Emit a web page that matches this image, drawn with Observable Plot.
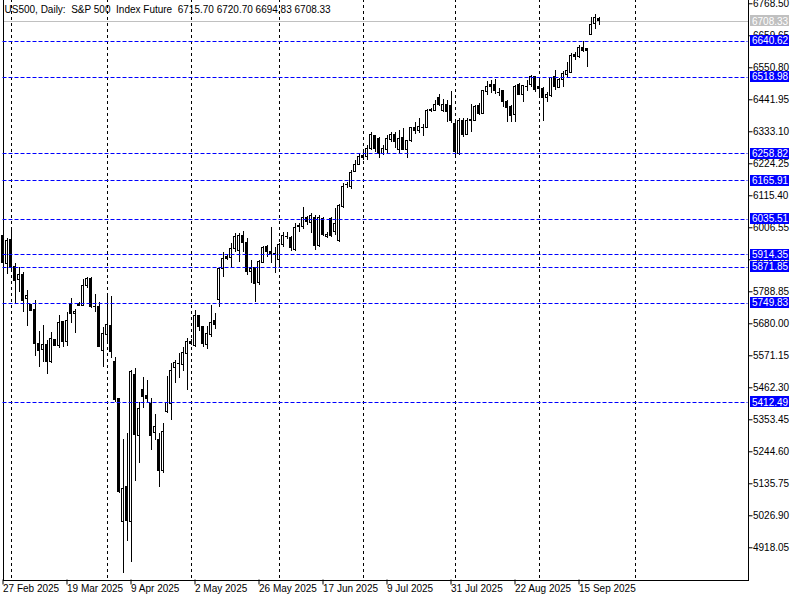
<!DOCTYPE html>
<html><head><meta charset="utf-8">
<script src="https://cdn.jsdelivr.net/npm/d3@7"></script>
<script src="https://cdn.jsdelivr.net/npm/@observablehq/plot@0.6"></script>
<style>
html,body{margin:0;padding:0;background:#fff;}
#chart svg text{white-space:pre;}
</style></head><body><div id="chart"></div>
<script>
const titleText = "US500, Daily:  S&P 500  Index Future  6715.70 6720.70 6694.83 6708.33";

const opens = [5980.3,5884.1,5966.7,5872.5,5829.6,5844.3,5765.0,5745.6,5728.6,5611.9,
5591.5,5608.5,5551.7,5625.5,5603.8,5686.8,5617.4,5745.6,5714.0,5749.0,
5739.8,5807.9,5830.7,5738.8,5738.8,5586.8,5642.5,5670.8,5551.7,5422.5,
5005.1,5124.1,5005.1,5504.1,5297.6,5453.1,5432.7,5405.5,5309.2,5283.0,
5180.9,5379.3,5407.8,5530.3,5543.9,5540.5,5577.9,5619.7,5606.1,5704.8,
5668.4,5608.5,5640.2,5687.8,5761.6,5867.1,5905.5,5904.5,5935.1,5925.9,
5980.3,5954.1,5855.5,5870.5,5818.1,5887.5,5940.5,5923.5,5918.1,5897.7,
5948.7,5977.9,5972.5,5929.3,6014.3,6010.9,6040.5,6022.2,6039.2,5946.3,
6037.1,5974.5,6037.1,5991.5,5960.9,6076.6,6152.8,6144.6,6195.6,6221.8,
6249.1,6246.7,6275.2,6318.1,6309.3,6258.2,6271.8,6303.5,6322.9,6271.8,
6311.3,6271.8,6300.1,6345.3,6335.1,6348.7,6345.3,6408.9,6405.5,6448.7,
6403.1,6425.9,6422.5,6360.3,6258.2,6371.5,6322.9,6371.5,6371.5,6422.5,
6394.3,6467.8,6490.6,6490.6,6465.7,6470.2,6433.8,6416.7,6390.9,6492.9,
6458.9,6488.2,6490.6,6518.8,6484.8,6479.3,6448.7,6456.5,6518.8,6481.4,
6507.6,6527.0,6533.8,6595.0,6586.8,6617.4,6615.4,6663.0,6700.4,6715.70];

const highs = [5987.1,5971.1,6000.7,5884.1,5872.5,5855.5,5793.2,5745.6,5759.2,5653.8,
5674.2,5623.2,5649.4,5626.6,5708.2,5687.8,5717.4,5767.0,5727.6,5752.4,
5830.7,5838.5,5838.5,5778.6,5753.4,5668.4,5773.9,5773.9,5566.3,5424.8,
5286.4,5305.8,5521.1,5526.9,5413.3,5496.3,5487.1,5424.8,5371.4,5305.8,
5339.8,5500.7,5543.9,5555.1,5577.9,5598.3,5630.0,5626.6,5725.2,5708.2,
5670.8,5670.8,5742.2,5714.0,5872.5,5923.5,5912.3,5954.1,5988.2,5988.2,
5993.9,5969.1,5895.3,5872.5,5895.3,5942.9,5946.3,6008.6,5940.5,5954.1,
5989.5,5991.5,5976.9,6022.2,6022.2,6076.6,6045.0,6054.1,6048.4,6048.4,
6041.6,5990.5,6041.6,6073.2,6085.8,6156.2,6161.6,6201.4,6235.4,6258.2,
6269.5,6286.5,6331.7,6320.5,6314.7,6286.5,6320.5,6331.7,6331.7,6337.5,
6343.3,6303.5,6348.7,6365.7,6377.3,6356.9,6408.9,6412.3,6439.5,6458.9,
6442.9,6439.5,6470.2,6368.1,6377.3,6377.3,6377.3,6424.9,6422.5,6428.3,
6473.6,6504.2,6507.6,6511.0,6481.4,6473.6,6439.5,6422.5,6490.6,6496.4,
6490.6,6507.6,6524.6,6518.8,6507.6,6484.8,6465.7,6518.8,6541.6,6513.4,
6538.2,6569.8,6598.4,6603.8,6626.6,6640.2,6617.4,6722.9,6731.1,6720.70];

const lows = [5878.3,5846.6,5855.5,5744.6,5787.5,5719.4,5671.8,5721.8,5569.8,5532.3,
5549.3,5508.5,5545.9,5602.8,5597.0,5599.3,5603.8,5682.0,5648.0,5738.8,
5739.8,5801.1,5731.0,5719.4,5600.4,5532.3,5611.9,5563.0,5413.3,5101.7,
4829.6,4939.4,4869.0,5143.5,5203.7,5390.8,5407.8,5249.0,5283.0,5124.1,
5171.8,5375.9,5351.0,5477.9,5492.9,5517.7,5453.1,5606.1,5600.4,5654.8,
5600.4,5592.5,5634.4,5659.5,5734.4,5836.4,5895.3,5867.1,5923.5,5889.5,
5923.5,5844.3,5816.0,5753.4,5810.2,5884.1,5904.5,5884.1,5852.1,5872.5,
5940.5,5965.7,5926.9,5926.9,5991.5,5999.7,6014.3,5986.1,5929.3,5939.5,
5976.9,5970.1,5973.5,5980.3,5956.5,6073.2,6139.2,6136.8,6193.6,6218.4,
6235.4,6235.4,6269.5,6263.7,6243.3,6252.5,6258.2,6297.7,6275.2,6258.2,
6269.5,6241.2,6295.7,6322.9,6326.3,6318.1,6343.3,6398.7,6402.1,6420.2,
6399.7,6365.7,6361.3,6252.5,6252.5,6314.7,6320.5,6331.7,6369.1,6388.5,
6390.9,6456.5,6462.3,6458.9,6454.2,6416.7,6363.7,6363.7,6363.7,6456.5,
6431.7,6470.2,6484.8,6467.8,6456.5,6368.1,6433.8,6450.8,6473.6,6479.3,
6484.8,6513.4,6530.4,6575.6,6581.4,6603.8,6552.8,6660.6,6681.1,6694.83];

const closes = [5885.1,5963.3,5872.5,5824.9,5844.3,5759.2,5776.2,5725.2,5611.9,5589.1,
5608.5,5549.3,5628.9,5603.8,5683.4,5617.4,5690.2,5714.0,5721.8,5739.8,
5810.2,5830.7,5736.4,5736.4,5600.4,5646.0,5674.2,5583.4,5419.1,5109.5,
5118.7,5007.5,5515.3,5303.4,5390.8,5430.3,5422.5,5297.6,5328.2,5180.9,
5313.6,5411.2,5521.1,5547.3,5543.9,5581.3,5617.4,5611.9,5704.8,5668.4,
5611.9,5646.0,5683.4,5676.6,5867.1,5901.1,5898.7,5935.1,5976.9,5980.3,
5954.1,5855.5,5867.1,5816.0,5889.5,5938.5,5923.5,5915.7,5912.3,5949.7,
5980.3,5977.9,5937.1,6006.5,6010.9,6040.5,6025.6,6045.0,5946.3,6039.2,
5983.7,5983.7,5977.9,6020.1,6080.0,6144.6,6152.8,6193.6,6220.8,6246.7,
6244.6,6275.2,6322.9,6272.9,6258.2,6272.9,6306.9,6320.5,6297.7,6309.3,
6269.5,6300.1,6345.3,6334.1,6348.7,6348.7,6405.5,6403.1,6425.9,6424.9,
6424.9,6402.1,6371.5,6263.7,6371.5,6320.5,6371.5,6374.9,6416.7,6394.3,
6470.2,6484.8,6484.8,6470.2,6465.7,6433.8,6413.3,6388.5,6484.8,6458.9,
6488.2,6488.2,6518.8,6475.9,6479.3,6447.4,6459.9,6515.4,6484.8,6507.6,
6530.4,6538.2,6592.6,6586.8,6617.4,6609.6,6609.6,6697.0,6719.5,6708.33];

const levels = [6640.62, 6518.98, 6258.82, 6165.91, 6035.51, 5914.35, 5871.85, 5749.83, 5412.49];
const currentPrice = 6708.33;

const yTicks = [4918.05, 5026.90, 5135.75, 5244.60, 5353.45, 5462.30, 5571.15, 5680.00, 5788.85,
  5897.70, 6006.55, 6115.40, 6224.25, 6333.10, 6441.95, 6550.80, 6659.65, 6768.50];

const dateLabels = ["27 Feb 2025","19 Mar 2025","9 Apr 2025","2 May 2025","26 May 2025",
  "17 Jun 2025","9 Jul 2025","31 Jul 2025","22 Aug 2025","15 Sep 2025"];
const dateLabelBars = [0, 16, 32, 48, 64, 80, 96, 112, 128, 144];

const gridBars = [2, 26, 47, 69, 90, 113, 134, 158];

const bars = opens.map((o, i) => ({i, open: o, high: highs[i], low: lows[i], close: closes[i]}));
const bodies = bars.filter(d => d.open !== d.close);
const dojis = bars.filter(d => d.open === d.close);

// horizontal level lines, snapped to whole pixels for crisp 1px dashes
function levelLines(index, scales, values, dims) {
  const g = d3.create("svg:g");
  const xa = dims.marginLeft, xb = dims.width - dims.marginRight;
  for (const v of levels) {
    const yy = Math.round(scales.y(v)) + 0.5;
    g.append("line").attr("x1", xa).attr("x2", xb).attr("y1", yy).attr("y2", yy)
      .attr("stroke", "rgb(0,0,255)").attr("stroke-width", 1).attr("stroke-dasharray", "4,2");
  }
  return g.node();
}

function levelLabels(index, scales, values, dims) {
  const g = d3.create("svg:g").attr("font-size", 10).attr("text-anchor", "start");
  const x0 = dims.width - dims.marginRight + 2.5;
  const items = levels.map(v => ({v, fill: "#0000ff"})).concat([{v: currentPrice, fill: "#c0c0c0"}]);
  for (const it of items) {
    const sy = scales.y(it.v);
    g.append("rect").attr("x", x0).attr("y", Math.round(sy - 5.5)).attr("width", 39).attr("height", 11).attr("fill", it.fill);
    g.append("text").attr("x", x0 + 2).attr("y", sy).attr("dy", "0.36em").attr("text-anchor", "start")
      .attr("fill", "white").text(it.v.toFixed(2));
  }
  return g.node();
}

const chart = Plot.plot({
  width: 800,
  height: 600,
  marginLeft: 2.5,
  marginRight: 52.5,
  marginTop: -1,
  marginBottom: 20.5,
  x: {type: "linear", domain: [0, 186], range: [2.5, 746.5], axis: null, label: null},
  y: {domain: [4810.17, 6779.7], range: [579, 0], axis: null, label: null},
  style: {background: "white", fontFamily: "'Liberation Sans', Arial, sans-serif", fontSize: "10px", color: "black", overflow: "visible"},
  marks: [
    Plot.ruleX(gridBars, {x: d => d, stroke: "black", strokeDasharray: "3,3", shapeRendering: "crispEdges"}),
    Plot.ruleY([currentPrice], {stroke: "#c0c0c0", shapeRendering: "crispEdges"}),
    Plot.ruleX(bars, {x: "i", y1: "low", y2: "high", stroke: "black", shapeRendering: "crispEdges"}),
    Plot.rect(bodies, {x1: d => d.i - 0.25, x2: d => d.i + 0.25, y1: "open", y2: "close",
      fill: d => d.close > d.open ? "white" : "black", stroke: "black", shapeRendering: "crispEdges"}),
    Plot.ruleY(dojis, {y: "open", x1: d => d.i - 0.375, x2: d => d.i + 0.375, stroke: "black", shapeRendering: "crispEdges"}),
    Plot.frame({stroke: "black", shapeRendering: "crispEdges"}),
    levelLines,
    Plot.axisY(yTicks, {anchor: "right", label: null, tickSize: 4, tickPadding: 1, tickFormat: d => d.toFixed(2), fontSize: 10}),
    Plot.axisX(dateLabelBars, {anchor: "bottom", label: null, tickSize: 5, tickPadding: 0, textAnchor: "start",
      tickFormat: d => dateLabels[dateLabelBars.indexOf(d)], fontSize: 10}),
    levelLabels,
    Plot.text([titleText], {text: d => d, frameAnchor: "top-left", dx: 1.5, dy: 6.5, lineAnchor: "top", textAnchor: "start", fontSize: 10, fill: "black"})
  ]
});
document.getElementById("chart").appendChild(chart);
</script>
</body></html>
